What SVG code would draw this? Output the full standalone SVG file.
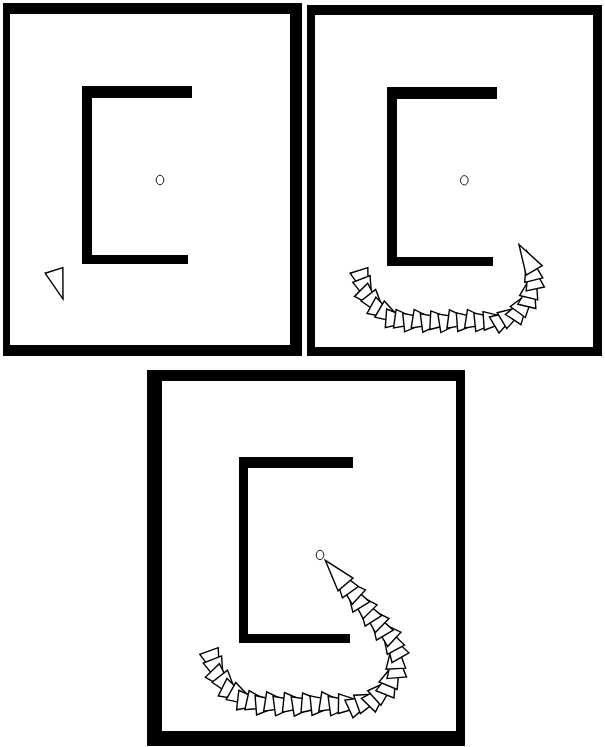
<svg xmlns="http://www.w3.org/2000/svg" xmlns:xlink="http://www.w3.org/1999/xlink" width="605" height="747" viewBox="0 0 605 747">
<style>
.frame{fill:#000;fill-rule:evenodd}
.wall{fill:#000}
.goal{fill:none;stroke:#000;stroke-width:0.9}
.bot{fill:#fff;stroke:#000;stroke-width:1.4;stroke-linejoin:miter}
</style>
<defs>
<polygon id="t" class="bot" points="15,0 -15,-9.3 -15,9.3"/>
<polygon id="t3" class="bot" points="15.75,0 -15.75,-9.8 -15.75,9.8"/>
</defs>
<rect width="605" height="747" fill="#fff"/>
<g id="panel1">
<path class="frame" d="M3,3 H302 V356 H3 Z M10,14 V345 H290 V14 Z"/>
<polygon class="wall" points="82,86 192,86 192,98 92,98 92,255 188,255 188,264 82,264"/>
<ellipse class="goal" cx="160" cy="180" rx="3.8" ry="4.7"/>
<use xlink:href="#t" transform="translate(58.5,284.75) rotate(72.5)"/>
</g>
<g id="panel2">
<path class="frame" d="M307,5 H602 V356 H307 Z M315,15 V347 H593 V15 Z"/>
<polygon class="wall" points="387,87 497,87 497,99 397,99 397,257 493,257 493,266 387,266"/>
<ellipse class="goal" cx="464.3" cy="180.3" rx="3.8" ry="4.7"/>
<g id="path2">
<use xlink:href="#t" transform="translate(363.5,284.75) rotate(72.5)"/>
<use xlink:href="#t" transform="translate(366.89,292.95) rotate(68.6)"/>
<use xlink:href="#t" transform="translate(371.65,300.47) rotate(45.2)"/>
<use xlink:href="#t" transform="translate(377.62,307.03) rotate(51.8)"/>
<use xlink:href="#t" transform="translate(384.63,312.49) rotate(28.4)"/>
<use xlink:href="#t" transform="translate(392.48,316.66) rotate(30.5)"/>
<use xlink:href="#t" transform="translate(400.92,319.42) rotate(4.1)"/>
<use xlink:href="#t" transform="translate(409.71,320.68) rotate(7.7)"/>
<use xlink:href="#t" transform="translate(418.6,321) rotate(-6)"/>
<use xlink:href="#t" transform="translate(427.5,321) rotate(9)"/>
<use xlink:href="#t" transform="translate(436.39,321) rotate(-7.5)"/>
<use xlink:href="#t" transform="translate(445.28,321) rotate(3)"/>
<use xlink:href="#t" transform="translate(454.18,321) rotate(-9)"/>
<use xlink:href="#t" transform="translate(463.07,321) rotate(7.5)"/>
<use xlink:href="#t" transform="translate(471.97,321) rotate(-4.5)"/>
<use xlink:href="#t" transform="translate(480.86,321) rotate(9)"/>
<use xlink:href="#t" transform="translate(489.75,320.76) rotate(-6)"/>
<use xlink:href="#t" transform="translate(498.59,319.95) rotate(-3.8)"/>
<use xlink:href="#t" transform="translate(507.07,317.3) rotate(-30.9)"/>
<use xlink:href="#t" transform="translate(514.79,312.93) rotate(-31.1)"/>
<use xlink:href="#t" transform="translate(521.42,307.04) rotate(-56.7)"/>
<use xlink:href="#t" transform="translate(526.68,299.87) rotate(-53.8)"/>
<use xlink:href="#t" transform="translate(530.3,291.78) rotate(-76.5)"/>
<use xlink:href="#t" transform="translate(532.15,283.09) rotate(-76.6)"/>
<use xlink:href="#t" transform="translate(532.12,274.22) rotate(-102.2)"/>
<use xlink:href="#t" transform="translate(530.23,265.54) rotate(-103.8)"/>
<use xlink:href="#t" transform="translate(526.57,257.46) rotate(-120.5)"/>
</g>
</g>
<g id="panel3">
<path class="frame" d="M147,370 H465 V746 H147 Z M162,381 V731 H456 V381 Z"/>
<polygon class="wall" points="239,457 353,457 353,468 248,468 248,634 350,634 350,643 239,643"/>
<ellipse class="goal" cx="320" cy="555" rx="3.8" ry="4.7"/>
<g id="path3">
<use xlink:href="#t3" transform="translate(214.4,665.8) rotate(70)"/>
<use xlink:href="#t3" transform="translate(218.21,674.15) rotate(68.4)"/>
<use xlink:href="#t3" transform="translate(223.29,681.79) rotate(45.8)"/>
<use xlink:href="#t3" transform="translate(229.52,688.54) rotate(51.8)"/>
<use xlink:href="#t3" transform="translate(236.72,694.22) rotate(26.2)"/>
<use xlink:href="#t3" transform="translate(244.74,698.69) rotate(29.1)"/>
<use xlink:href="#t3" transform="translate(253.36,701.84) rotate(6.5)"/>
<use xlink:href="#t3" transform="translate(262.37,703.59) rotate(12.5)"/>
<use xlink:href="#t3" transform="translate(271.54,704) rotate(-4.5)"/>
<use xlink:href="#t3" transform="translate(280.73,704) rotate(9)"/>
<use xlink:href="#t3" transform="translate(289.92,704) rotate(-7.5)"/>
<use xlink:href="#t3" transform="translate(299.1,704) rotate(6)"/>
<use xlink:href="#t3" transform="translate(308.29,704) rotate(-9)"/>
<use xlink:href="#t3" transform="translate(317.48,704) rotate(4.5)"/>
<use xlink:href="#t3" transform="translate(326.67,704) rotate(-6)"/>
<use xlink:href="#t3" transform="translate(335.85,704) rotate(9)"/>
<use xlink:href="#t3" transform="translate(345.04,704) rotate(-7.5)"/>
<use xlink:href="#t3" transform="translate(354.23,703.92) rotate(0.9)"/>
<use xlink:href="#t3" transform="translate(363.27,702.39) rotate(-24.5)"/>
<use xlink:href="#t3" transform="translate(371.81,699.04) rotate(-20)"/>
<use xlink:href="#t3" transform="translate(379.44,693.99) rotate(-45.4)"/>
<use xlink:href="#t3" transform="translate(385.89,687.45) rotate(-42.4)"/>
<use xlink:href="#t3" transform="translate(390.83,679.72) rotate(-67.9)"/>
<use xlink:href="#t3" transform="translate(394.07,671.14) rotate(-67.8)"/>
<use xlink:href="#t3" transform="translate(395.45,662.07) rotate(-94.8)"/>
<use xlink:href="#t3" transform="translate(394.92,652.92) rotate(-93.3)"/>
<use xlink:href="#t3" transform="translate(392.51,644.07) rotate(-120.2)"/>
<use xlink:href="#t3" transform="translate(388.32,635.91) rotate(-118.7)"/>
<use xlink:href="#t3" transform="translate(382.65,628.69) rotate(-137.5)"/>
<use xlink:href="#t3" transform="translate(376.75,621.65) rotate(-121)"/>
<use xlink:href="#t3" transform="translate(370.84,614.61) rotate(-136)"/>
<use xlink:href="#t3" transform="translate(364.94,607.58) rotate(-122.5)"/>
<use xlink:href="#t3" transform="translate(359.03,600.54) rotate(-134.5)"/>
<use xlink:href="#t3" transform="translate(353.13,593.5) rotate(-121)"/>
<use xlink:href="#t3" transform="translate(347.22,586.46) rotate(-137.5)"/>
<use xlink:href="#t3" transform="translate(341.32,579.42) rotate(-125.5)"/>
<use xlink:href="#t3" transform="translate(335.41,572.39) rotate(-130)"/>
</g>
</g>
</svg>
